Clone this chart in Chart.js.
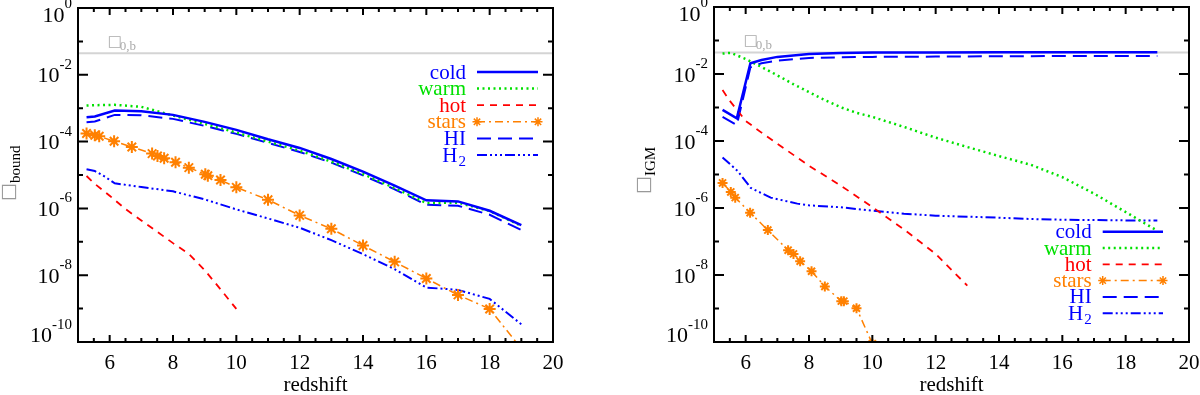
<!DOCTYPE html>
<html>
<head>
<meta charset="utf-8">
<script src="https://cdn.jsdelivr.net/npm/chart.js@4.4.0/dist/chart.umd.min.js"></script>
<style>
  html, body { margin: 0; padding: 0; background: #fff; }
  #wrap { position: relative; width: 1200px; height: 395px; }
  canvas { position: absolute; top: 0; }
  #cBound { left: 0; }
  #cIgm { left: 600px; }
</style>
</head>
<body>
<div id="wrap">
  <canvas id="cBound" width="600" height="395"></canvas>
  <canvas id="cIgm" width="600" height="395"></canvas>
</div>
<script>
// ---- data ----
var omegaB = 0.044;
var xTicks = [6, 8, 10, 12, 14, 16, 18, 20];
var yTicks = [1e-10, 1e-8, 1e-6, 1e-4, 1e-2, 1];

// left panel: bound
var zBound = [5.27, 5.53, 6.16, 7, 8, 9, 10, 11, 12, 13, 14, 15, 16, 17, 18, 19];
var coldBound = [5.37e-4, 5.62e-4, 8.51e-4, 8.13e-4, 6.31e-4, 3.89e-4, 2.24e-4, 1.17e-4, 6.46e-5, 3.02e-5, 1.26e-5, 4.79e-6, 1.74e-6, 1.62e-6, 8.51e-7, 3.16e-7];
var warmBound = [1.20e-3, 1.23e-3, 1.26e-3, 1.10e-3, 6.03e-4, 3.39e-4, 1.86e-4, 1.00e-4, 5.37e-5, 2.51e-5, 1.07e-5, 4.07e-6, 1.45e-6, 1.48e-6, 8.32e-7, 3.02e-7];
var hiBound = [3.80e-4, 3.98e-4, 6.31e-4, 6.17e-4, 4.79e-4, 2.95e-4, 1.70e-4, 9.12e-5, 4.90e-5, 2.34e-5, 9.77e-6, 3.72e-6, 1.29e-6, 1.20e-6, 6.46e-7, 2.24e-7];
var zHotBound = [5.27, 5.5, 6, 6.5, 7, 7.5, 8, 8.5, 9, 9.5, 10];
var hotBound = [9.33e-6, 5.75e-6, 2.40e-6, 9.55e-7, 4.37e-7, 2.00e-7, 9.12e-8, 4.37e-8, 1.41e-8, 3.80e-9, 9.77e-10];
var zH2Bound = [5.27, 5.53, 5.85, 6.16, 7, 8, 9, 10, 11, 12, 13, 14, 15, 16, 17, 18, 19];
var h2Bound = [1.48e-5, 1.32e-5, 8.91e-6, 5.62e-6, 4.37e-6, 3.24e-6, 1.86e-6, 9.33e-7, 5.01e-7, 2.63e-7, 1.12e-7, 4.27e-8, 1.51e-8, 4.27e-9, 3.63e-9, 1.95e-9, 3.39e-10];
var zStarsBound = [5.27, 5.53, 5.67, 6.14, 6.7, 7.34, 7.51, 7.72, 8.08, 8.5, 9.02, 9.1, 9.5, 10, 11, 12, 13, 14, 15, 16, 17, 18, 19];
var starsBound = [1.74e-4, 1.55e-4, 1.45e-4, 1.02e-4, 6.92e-5, 4.37e-5, 3.72e-5, 3.16e-5, 2.40e-5, 1.66e-5, 1.05e-5, 9.55e-6, 7.08e-6, 4.27e-6, 1.82e-6, 6.17e-7, 2.45e-7, 7.76e-8, 2.51e-8, 7.94e-9, 2.57e-9, 9.77e-10, 6.31e-11];

// right panel: IGM
var zColdIgm = [5.27, 5.72, 6.15, 6.5, 7, 8, 9, 10, 12, 14, 16, 19];
var coldIgm = [8.51e-4, 4.79e-4, 2.09e-2, 2.63e-2, 3.24e-2, 3.98e-2, 4.27e-2, 4.37e-2, 4.42e-2, 4.47e-2, 4.47e-2, 4.47e-2];
var hiIgm = [5.25e-4, 3.02e-4, 1.58e-2, 2.09e-2, 2.51e-2, 3.02e-2, 3.16e-2, 3.24e-2, 3.31e-2, 3.39e-2, 3.43e-2, 3.47e-2];
var zWarmIgm = [5.27, 5.53, 6, 6.5, 7, 7.5, 8, 8.5, 9, 9.5, 10, 11, 12, 13, 14, 15, 16, 17, 18, 19];
var warmIgm = [4.07e-2, 4.27e-2, 2.82e-2, 1.62e-2, 9.12e-3, 5.01e-3, 2.88e-3, 1.66e-3, 1.02e-3, 6.92e-4, 5.25e-4, 2.63e-4, 1.26e-4, 6.61e-5, 3.55e-5, 1.95e-5, 8.32e-6, 2.69e-6, 7.59e-7, 2.09e-7];
var zHotIgm = [5.27, 5.5, 6, 6.5, 7, 8, 9, 10, 11, 12, 13];
var hotIgm = [3.31e-3, 1.58e-3, 3.98e-4, 1.78e-4, 8.32e-5, 1.82e-5, 4.68e-6, 1.07e-6, 2.29e-7, 4.27e-8, 4.79e-9];
var zStarsIgm = [5.27, 5.53, 5.67, 6.14, 6.7, 7.34, 7.51, 7.72, 8.08, 8.5, 9.02, 9.1, 9.5, 10];
var starsIgm = [5.62e-6, 3.02e-6, 2.04e-6, 7.24e-7, 2.19e-7, 5.50e-8, 4.27e-8, 2.57e-8, 1.29e-8, 4.57e-9, 1.66e-9, 1.66e-9, 1.02e-9, 8.91e-11];
var zH2Igm = [5.27, 5.75, 6.16, 6.79, 7.63, 8, 9, 10, 11, 12, 13, 14, 15, 16, 17, 18, 19];
var h2Igm = [3.24e-5, 1.26e-5, 3.98e-6, 2.04e-6, 1.35e-6, 1.20e-6, 1.05e-6, 8.32e-7, 6.76e-7, 5.89e-7, 5.50e-7, 5.13e-7, 4.68e-7, 4.47e-7, 4.37e-7, 4.27e-7, 4.27e-7];

// ---- styles ----
var SERIF = '"Liberation Serif", "DejaVu Serif", serif';
var BLUE = '#0000ff', GREEN = '#00e000', RED = '#ff0000', ORANGE = '#ff8000';

var styles = {
  cold:  { label: 'cold',  color: BLUE,   width: 2.5, dash: [] },
  warm:  { label: 'warm',  color: GREEN,  width: 2.5, dash: [2, 3.5] },
  hot:   { label: 'hot',   color: RED,    width: 1.8, dash: [7, 6] },
  stars: { label: 'stars', color: ORANGE, width: 1.5, dash: [8, 4, 2, 4], star: true },
  HI:    { label: 'HI',    color: BLUE,   width: 2,   dash: [14, 7] },
  H2:    { label: 'H', sub: '2', color: BLUE, width: 2, dash: [10, 3, 2, 3, 2, 3, 2, 3] }
};

function series(st, z, v, starR) {
  return {
    label: st.label + (st.sub || ''),
    legendStyle: st,
    data: z.map(function (x, i) { return { x: x, y: v[i] }; }),
    borderColor: st.color,
    backgroundColor: st.color,
    borderWidth: st.width,
    borderDash: st.dash,
    pointStyle: st.star ? 'star' : 'circle',
    pointRadius: st.star ? starR : 0,
    pointBorderWidth: st.star ? 2 : 0,
    pointBorderColor: st.color,
    fill: false,
    clip: 0
  };
}

function omegaLine() {
  return {
    label: 'omega_b',
    data: [{ x: 5, y: omegaB }, { x: 20, y: omegaB }],
    borderColor: '#d4d4d4', borderWidth: 2, pointRadius: 0, fill: false, clip: 0
  };
}

// frame, inward ticks, y tick labels, Omega_0,b label, y title and legend
function drawDecor(chart, cfg) {
  var ctx = chart.ctx, a = chart.chartArea, xs = chart.scales.x, ys = chart.scales.y;
  ctx.save();
  ctx.strokeStyle = '#000';
  ctx.lineWidth = 2;
  ctx.beginPath();
  for (var z = 5.5; z < 20; z += 0.5) {
    var px = xs.getPixelForValue(z);
    var len = (z % 2 === 0) ? 7 : 4;
    ctx.moveTo(px, a.bottom); ctx.lineTo(px, a.bottom - len);
    ctx.moveTo(px, a.top); ctx.lineTo(px, a.top + len);
  }
  for (var e = -9; e < 0; e++) {
    var py = ys.getPixelForValue(Math.pow(10, e));
    var l2 = (e % 2 === 0) ? 10 : 5;
    ctx.moveTo(a.left, py); ctx.lineTo(a.left + l2, py);
    ctx.moveTo(a.right, py); ctx.lineTo(a.right - l2, py);
  }
  ctx.stroke();
  ctx.strokeRect(a.left, a.top, a.right - a.left, a.bottom - a.top);

  // y tick labels 10^n with a raised exponent, kept inside the frame height
  ctx.fillStyle = '#000';
  ctx.textAlign = 'right';
  ctx.textBaseline = 'alphabetic';
  ys.ticks.forEach(function (t) {
    var ex = String(Math.round(Math.log10(t.value)));
    var tp = ys.getPixelForValue(t.value);
    var base = Math.min(Math.max(tp + 7.5, a.top + 13.5), a.bottom);
    var r = a.left - 6;
    ctx.font = '15px ' + SERIF;
    ctx.fillText(ex, r, base - 13.5);
    r -= ctx.measureText(ex).width;
    ctx.font = '22px ' + SERIF;
    ctx.fillText('10', r, base);
  });

  // Omega_0,b label
  var ox = xs.getPixelForValue(6) - 1, oy = ys.getPixelForValue(omegaB) - 7;
  ctx.fillStyle = '#aaaaaa';
  ctx.textAlign = 'left';
  ctx.font = '15px "DejaVu Sans"';
  ctx.fillText('\u25A1', ox - 1, oy);
  ctx.font = '13px ' + SERIF;
  ctx.fillText('0,b', ox + 11, oy + 4);

  // y title: box glyph + subscript, rotated
  ctx.save();
  ctx.translate(cfg.yTitle.x, cfg.yTitle.y);
  ctx.rotate(-Math.PI / 2);
  ctx.fillStyle = '#999999';
  ctx.font = '19px "DejaVu Sans"';
  ctx.fillText('\u25A1', -1, 14);
  ctx.fillStyle = '#000';
  ctx.font = '15px ' + SERIF;
  ctx.fillText(cfg.yTitle.sub, 17, 20);
  ctx.restore();

  // legend
  var lg = cfg.legend;
  var items = chart.data.datasets.filter(function (d) { return d.legendStyle; });
  items.forEach(function (d, i) {
    var st = d.legendStyle;
    var y = lg.y0 + i * lg.step;
    ctx.fillStyle = st.color;
    ctx.textAlign = 'right';
    ctx.textBaseline = 'alphabetic';
    var right = lg.right;
    if (st.sub) {
      ctx.font = '15px ' + SERIF;
      ctx.fillText(st.sub, right, y + 11);
      right -= ctx.measureText(st.sub).width + 1;
    }
    ctx.font = '21px ' + SERIF;
    ctx.fillText(st.label, right, y + 6.5);
    ctx.strokeStyle = st.color;
    ctx.lineWidth = st.width;
    ctx.setLineDash(st.dash);
    ctx.beginPath();
    ctx.moveTo(lg.x1, y); ctx.lineTo(lg.x2, y);
    ctx.stroke();
    ctx.setLineDash([]);
    if (st.star) {
      ctx.lineWidth = 1.5;
      [lg.x1, lg.x2].forEach(function (sx) {
        Chart.helpers.drawPoint(ctx, { pointStyle: 'star', radius: 4.5, borderWidth: 1.5, rotation: 0 }, sx, y);
      });
    }
  });
  ctx.restore();
}

function makeChart(id, datasets, cfg) {
  var decor = { id: 'decor', afterDraw: function (chart) { drawDecor(chart, cfg); } };
  return new Chart(document.getElementById(id), {
    type: 'line',
    data: { datasets: datasets },
    options: {
      responsive: false,
      animation: false,
      devicePixelRatio: 1,
      layout: { padding: { top: 5, right: cfg.padRight, left: 0, bottom: 0 } },
      plugins: { legend: { display: false }, tooltip: { enabled: false } },
      elements: { line: { tension: 0 } },
      scales: {
        x: {
          type: 'linear', min: 5, max: 20,
          afterBuildTicks: function (s) { s.ticks = xTicks.map(function (v) { return { value: v }; }); },
          afterFit: function (s) { s.height = 53; s.paddingLeft = 0; s.paddingRight = 0; },
          grid: { display: false, drawTicks: false },
          border: { display: false },
          ticks: { font: { family: SERIF, size: 21 }, color: '#000', padding: 9, maxRotation: 0, autoSkip: false },
          title: { display: true, text: 'redshift', color: '#000',
                   font: { family: SERIF, size: 21, lineHeight: 1 }, padding: { top: 0, bottom: -1 } }
        },
        y: {
          type: 'logarithmic', min: 1e-10, max: 1,
          afterBuildTicks: function (s) { s.ticks = yTicks.map(function (v) { return { value: v }; }); },
          afterFit: function (s) { s.width = cfg.axisWidth; s.paddingTop = 0; s.paddingBottom = 0; },
          grid: { display: false, drawTicks: false },
          border: { display: false },
          ticks: { display: false }
        }
      }
    },
    plugins: [decor]
  });
}

makeChart('cBound', [
  series(styles.cold, zBound, coldBound),
  series(styles.warm, zBound, warmBound),
  series(styles.hot, zHotBound, hotBound),
  series(styles.stars, zStarsBound, starsBound, 6),
  series(styles.HI, zBound, hiBound),
  series(styles.H2, zH2Bound, h2Bound),
  omegaLine()
], {
  axisWidth: 78, padRight: 47,
  yTitle: { x: 0, y: 200, sub: 'bound' },
  legend: { right: 466, x1: 477, x2: 538, y0: 72, step: 16.6 }
});

makeChart('cIgm', [
  series(styles.cold, zColdIgm, coldIgm),
  series(styles.warm, zWarmIgm, warmIgm),
  series(styles.hot, zHotIgm, hotIgm),
  series(styles.stars, zStarsIgm, starsIgm, 5),
  series(styles.HI, zColdIgm, hiIgm),
  series(styles.H2, zH2Igm, h2Igm),
  omegaLine()
], {
  axisWidth: 114, padRight: 11,
  yTitle: { x: 35, y: 193, sub: 'IGM' },
  legend: { right: 491.7, x1: 502.7, x2: 563, y0: 231.7, step: 16.3 }
});
</script>
</body>
</html>
